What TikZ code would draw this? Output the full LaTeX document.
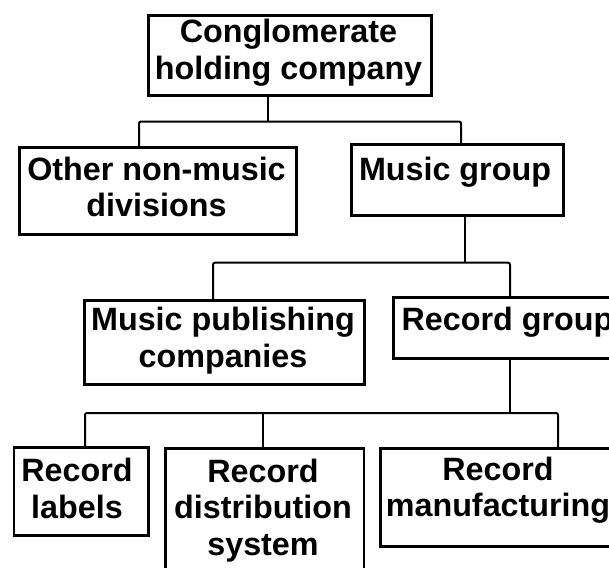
\documentclass[tikz,border=0pt]{standalone}
\usepackage{fontspec}
\setmainfont{Liberation Sans}
\begin{document}
\begin{tikzpicture}[x=1pt,y=-1pt,
  box/.style={draw=black, line width=2.6pt, fill=white, inner sep=0pt, anchor=north west},
  conn/.style={draw=black, line width=2pt, rounded corners=2pt},
  lbl/.style={anchor=base, inner sep=0pt, font=\fontsize{32.3}{36.5}\selectfont\bfseries}]
\useasboundingbox (0,0) rectangle (609,567);
\clip (0,0) rectangle (609,567);

% boxes of the organisation chart
\node[box, minimum width=283pt, minimum height=80pt] (top) at (147,14) {};
\node[box, minimum width=277pt, minimum height=87pt] (oth) at (18,146) {};
\node[box, minimum width=212pt, minimum height=71pt] (mg) at (350,143) {};
\node[box, minimum width=280pt, minimum height=84pt] (mp) at (83,299) {};
\node[box, minimum width=230pt, minimum height=61pt] (rg) at (392,296) {};
\node[box, minimum width=134.5pt, minimum height=88pt] (rl) at (12.5,446) {};
\node[box, minimum width=198.5pt, minimum height=140pt] (rd) at (164,447) {};
\node[box, minimum width=240pt, minimum height=98pt] (rm) at (379,447) {};

% labels (first baseline placed at the given point)
\node[lbl] (top-t) at (288.5,43) {\begin{tabular}[t]{@{}c@{}}Conglomerate\\holding company\end{tabular}};
\node[lbl] (oth-t) at (156.5,180) {\begin{tabular}[t]{@{}c@{}}Other non-music\\divisions\end{tabular}};
\node[lbl] (mg-t) at (455,180) {Music group};
\node[lbl] (mp-t) at (223,330.5) {\begin{tabular}[t]{@{}c@{}}Music publishing\\companies\end{tabular}};
\node[lbl] (rg-t) at (507.5,330) {Record group};
\node[lbl] (rl-t) at (77,481.5) {\begin{tabular}[t]{@{}c@{}}Record\\labels\end{tabular}};
\node[lbl] (rd-t) at (263,482) {\begin{tabular}[t]{@{}c@{}}Record\\distribution\\system\end{tabular}};
\node[lbl] (rm-t) at (498,480) {\begin{tabular}[t]{@{}c@{}}Record\\manufacturing\end{tabular}};

% bus junctions
\coordinate (j1) at (268,121.5);
\coordinate (j1l) at (139,121.5);
\coordinate (j1r) at (461,121.5);
\coordinate (j2) at (465,262.7);
\coordinate (j2l) at (213,262.7);
\coordinate (j2r) at (510,262.7);
\coordinate (j3) at (510,413);
\coordinate (j3l) at (85,413);
\coordinate (j3m) at (262.5,413);
\coordinate (j3r) at (558,413);

% connectors
\draw[conn] (j1 |- top.south) -- (j1);
\draw[conn] (j1l |- oth.north) -- (j1l) -- (j1r) -- (j1r |- mg.north);
\draw[conn] (j2 |- mg.south) -- (j2);
\draw[conn] (j2l |- mp.north) -- (j2l) -- (j2r) -- (j2r |- rg.north);
\draw[conn] (j3 |- rg.south) -- (j3);
\draw[conn] (j3l |- rl.north) -- (j3l) -- (j3r) -- (j3r |- rm.north);
\draw[conn] (j3m) -- (j3m |- rd.north);
\end{tikzpicture}
\end{document}
